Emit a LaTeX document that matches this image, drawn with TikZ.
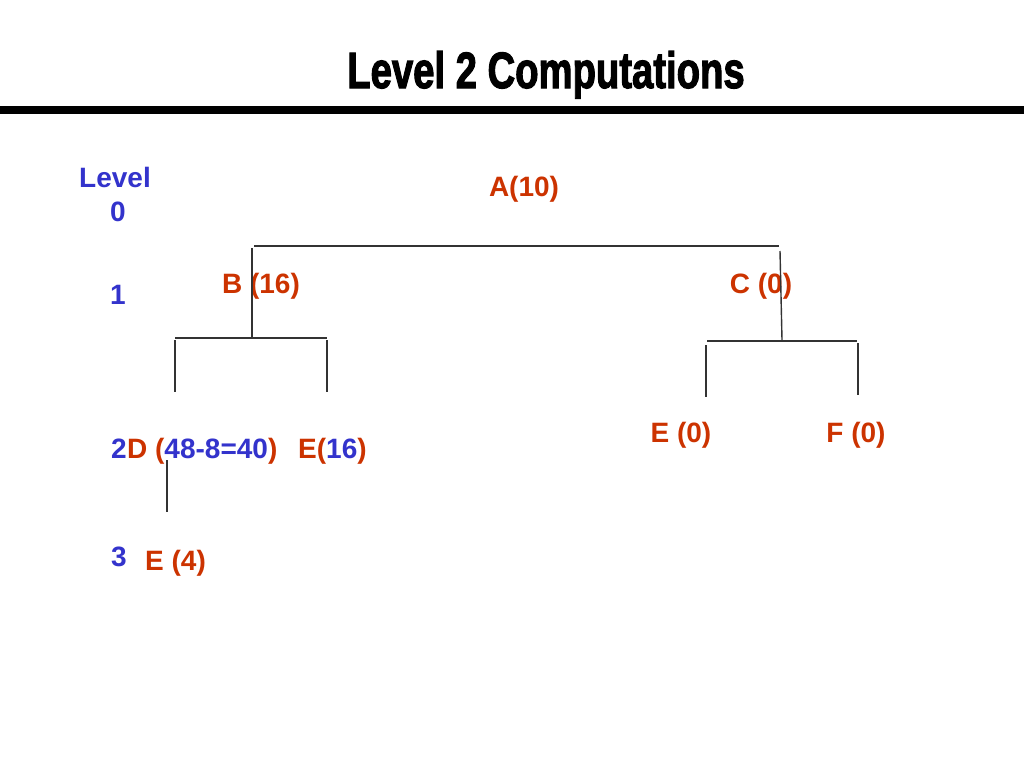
\documentclass[tikz,border=0pt]{standalone}
\usepackage{fontspec}
\setmainfont{Liberation Sans}
\newfontfamily\titlefont{Liberation Sans}[FakeBold=2.5]
\usepackage{graphicx}
\definecolor{lblue}{HTML}{3333CC}
\definecolor{lred}{HTML}{CC3300}
\definecolor{lineg}{HTML}{333333}
\begin{document}
\begin{tikzpicture}[x=1pt,y=-1pt,
  lab/.style={font=\fontsize{28}{32}\selectfont\bfseries, inner sep=0pt, anchor=base},
  red/.style={lab, text=lred},
  blue/.style={lab, text=lblue},
  tree/.style={draw=lineg, line width=1.4pt}]
\useasboundingbox (0,0) rectangle (1024,768);
\fill[white] (0,0) rectangle (1024,768);
% title
\node[inner sep=0pt, anchor=base] (title) at (546,88)
  {\scalebox{0.75}[1]{\fontsize{51}{56}\titlefont\bfseries Level 2 Computations}};
\coordinate (rl) at (0,110); \coordinate (rr) at (1024,110);
\draw[line width=8pt] (rl) -- (rr);
% level column
\node[blue] (lev) at (115,187) {Level};
\node[blue] (l0) at (118,221) {0};
\node[blue] (l1) at (118,304) {1};
\node[blue, anchor=base west] (l2) at (111,458) {2};
\node[blue] (l3) at (119,566) {3};
% tree labels
\node[red] (A) at (524,196) {A(10)};
\node[red] (B) at (261,293) {B (16)};
\node[red] (C) at (761,293) {C (0)};
\node[red, anchor=base west] (D) at (l2.base east) {D (\textcolor{lblue}{48-8=40})};
\node[red, anchor=base west] (E16) at (298,458) {E(\textcolor{lblue}{16})};
\node[red] (E0) at (681,442) {E (0)};
\node[red] (F0) at (856,442) {F (0)};
\node[red, anchor=base west] (E4) at (145,570) {E (4)};
% connectors
\coordinate (ha) at (254,246); \coordinate (hb) at (779,246);
\draw[tree] (ha) -- (hb);
\coordinate (bv1) at (252,248); \coordinate (bv2) at (252,338);
\draw[tree] (bv1) -- (bv2);
\coordinate (cv1) at (780,251); \coordinate (cv2) at (782,340);
\draw[tree] (cv1) -- (cv2);
\coordinate (bh1) at (175,338); \coordinate (bh2) at (327,338);
\draw[tree] (bh1) -- (bh2);
\coordinate (dv1) at (175,340); \coordinate (dv2) at (175,392);
\draw[tree] (dv1) -- (dv2);
\coordinate (ev1) at (327,340); \coordinate (ev2) at (327,392);
\draw[tree] (ev1) -- (ev2);
\coordinate (ch1) at (707,341); \coordinate (ch2) at (857,341);
\draw[tree] (ch1) -- (ch2);
\coordinate (e0a) at (706,345); \coordinate (e0b) at (706,397);
\draw[tree] (e0a) -- (e0b);
\coordinate (f0a) at (858,343); \coordinate (f0b) at (858,395);
\draw[tree] (f0a) -- (f0b);
\coordinate (d3a) at (167,460); \coordinate (d3b) at (167,512);
\draw[tree] (d3a) -- (d3b);
\end{tikzpicture}
\end{document}
